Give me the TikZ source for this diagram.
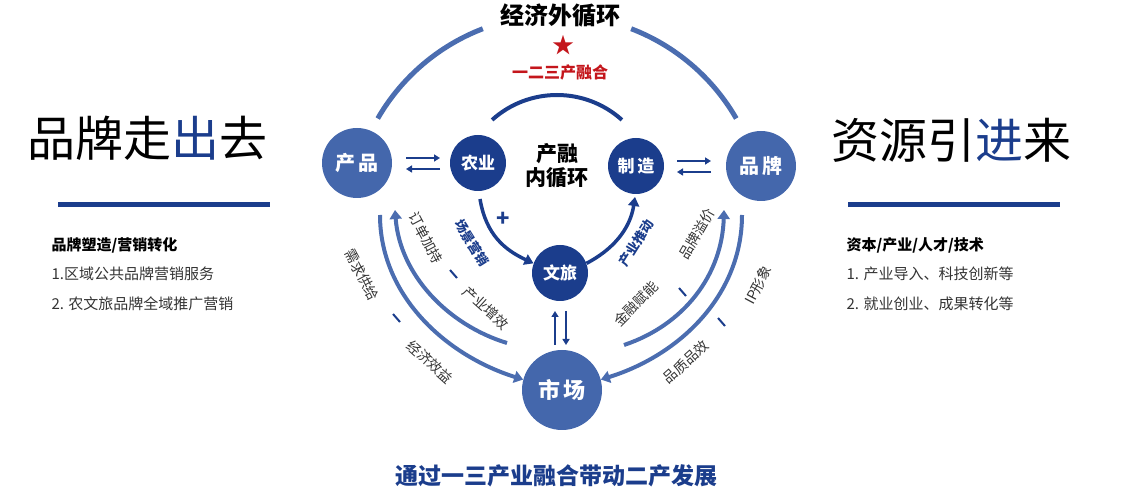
\documentclass[tikz,border=0pt]{standalone}
\usepackage{fontspec}
\setmainfont{Noto Sans CJK SC}
\usetikzlibrary{arrows.meta}
\definecolor{mid}{HTML}{4467AC}
\definecolor{dark}{HTML}{1B3D8C}
\definecolor{arcc}{HTML}{4B6DB0}
\definecolor{redc}{HTML}{C4161C}
\definecolor{txt}{HTML}{333333}
\tikzset{
 bigc/.style={circle,fill=mid,text=white,font=\bfseries\fontsize{20}{20}\selectfont,minimum size=70pt,inner sep=0pt},
 smc/.style={circle,fill=dark,text=white,font=\bfseries\fontsize{17}{17}\selectfont,minimum size=56pt,inner sep=0pt},
 arcline/.style={line width=5pt,draw=arcc},
 flow/.style={line width=4pt,draw=arcc,-{Triangle[length=9pt,width=12pt]}},
 dflow/.style={line width=3.5pt,draw=dark,-{Triangle[length=9pt,width=11pt]}},
 xarr/.style={line width=2pt,draw=dark,-{Triangle[length=6pt,width=7pt]}},
 lab/.style={text=txt,font=\fontsize{14}{14}\selectfont},
 blab/.style={text=dark,font=\bfseries\fontsize{13}{13}\selectfont},
 bar/.style={dark,line width=2pt},
}
\begin{document}
\begin{tikzpicture}[x=1pt,y=1pt]
\useasboundingbox (0,0) rectangle (1124,500);
% outer arc
\draw[arcline] (557,278) ++(30:207) arc (30:69:207);
\draw[arcline] (557,278) ++(111:207) arc (111:150:207);
\node[font=\bfseries\fontsize{24}{24}\selectfont] (outer) at (560,484) {经济外循环};
\node[text=redc,font=\fontsize{22}{22}\selectfont] (star) at (563,455) {★};
\node[text=redc,font=\bfseries\fontsize{16}{16}\selectfont] (yer) at (560,428) {一二三产融合};
% inner arc
\draw[line width=4pt,draw=dark] (557,308) ++(48:97) arc (48:132:97);
\node[font=\bfseries\fontsize{21}{24}\selectfont,align=center] (inner) at (557,334) {产融\\内循环};
% nodes
\node[bigc] (cp) at (357,337) {产\,品};
\node[smc] (ny) at (478,337) {农业};
\node[smc] (zz) at (636,334) {制\,造};
\node[bigc] (pp) at (761,334) {品\,牌};
\node[smc] (wl) at (560,227) {文旅};
\node[bigc,minimum size=80pt,font=\bfseries\fontsize{22}{22}\selectfont] (sc) at (562,110) {市\,场};
% double arrows
\coordinate (a1) at (406,342); \coordinate (a2) at (440,342);
\coordinate (a3) at (440,331); \coordinate (a4) at (406,331);
\draw[xarr] (a1) -- (a2); \draw[xarr] (a3) -- (a4);
\coordinate (b1) at (677,339); \coordinate (b2) at (711,339);
\coordinate (b3) at (711,328); \coordinate (b4) at (677,328);
\draw[xarr] (b1) -- (b2); \draw[xarr] (b3) -- (b4);
\coordinate (c1) at (555,155); \coordinate (c2) at (555,189);
\coordinate (c3) at (566,189); \coordinate (c4) at (566,155);
\draw[xarr] (c1) -- (c2); \draw[xarr] (c3) -- (c4);
% inner flows
\coordinate (f1) at (480,301);
\draw[dflow] (f1) .. controls (486,265) and (505,250) .. (wl.160);
\coordinate (f2) at (635,303);
\draw[dflow] (wl.20) .. controls (612,250) and (630,270) .. (f2);
\node[blab,rotate=-58] (cj) at (472,257) {场景营销};
\node[text=dark,font=\bfseries\fontsize{22}{22}\selectfont] (plus) at (503,281) {+};
\node[blab,rotate=58] (cytd) at (636,257) {产业推动};
% left arcs
\coordinate (l1) at (380,285);
\draw[flow] (l1) .. controls (380,205) and (445,145) .. (sc.165);
\coordinate (l2) at (507,157); \coordinate (l3) at (395,290);
\draw[flow] (l2) .. controls (448,175) and (400,225) .. (l3);
% right arcs
\coordinate (r1) at (624,155); \coordinate (r2) at (724,290);
\draw[flow] (r1) .. controls (684,175) and (722,225) .. (r2);
\coordinate (r3) at (742,285);
\draw[flow] (r3) .. controls (742,205) and (680,145) .. (sc.15);
% arc labels
\node[lab,rotate=-62] (t1) at (362,225) {需求供给};
\node[lab,rotate=-42] (t2) at (430,138) {经济效益};
\draw[bar] (393,186) -- (400,178);
\node[lab,rotate=-62] (t3) at (426,262) {订单加持};
\node[lab,rotate=-42] (t4) at (486,192) {产业增效};
\draw[bar] (450,230) -- (457,222);
\node[lab,rotate=60] (t5) at (697,266) {品牌溢价};
\node[lab,rotate=45] (t6) at (636,196) {金融赋能};
\draw[bar] (679,212) -- (686,204);
\node[lab,rotate=62] (t7) at (758,215) {IP形象};
\node[lab,rotate=42] (t8) at (686,138) {品质品效};
\draw[bar] (718,182) -- (725,174);
% left side
\node[anchor=west,font=\fontsize{48}{48}\selectfont] (lt) at (24,362) {品牌走\textcolor{dark}{出}去};
\coordinate (ll1) at (58,295); \coordinate (ll2) at (270,295);
\draw[line width=5pt,dark] (ll1) -- (ll2);
\node[anchor=west,font=\bfseries\fontsize{15}{15}\selectfont] (lh) at (48,255) {品牌塑造/营销转化};
\node[anchor=west,lab,font=\fontsize{15}{15}\selectfont] (l1t) at (48,226) {1.区域公共品牌营销服务};
\node[anchor=west,lab,font=\fontsize{15}{15}\selectfont] (l2t) at (48,196) {2. 农文旅品牌全域推广营销};
% right side
\node[anchor=west,font=\fontsize{48}{48}\selectfont] (rt) at (828,360) {资源引\textcolor{dark}{进}来};
\coordinate (rl1) at (848,295); \coordinate (rl2) at (1060,295);
\draw[line width=5pt,dark] (rl1) -- (rl2);
\node[anchor=west,font=\bfseries\fontsize{15}{15}\selectfont] (rh) at (843,255) {资本/产业/人才/技术};
\node[anchor=west,lab,font=\fontsize{15}{15}\selectfont] (r1t) at (843,226) {1. 产业导入、科技创新等};
\node[anchor=west,lab,font=\fontsize{15}{15}\selectfont] (r2t) at (843,196) {2. 就业创业、成果转化等};
% bottom
\node[text=dark,font=\bfseries\fontsize{23}{23}\selectfont] (bt) at (556,24) {通过一三产业融合带动二产发展};
\end{tikzpicture}
\end{document}
